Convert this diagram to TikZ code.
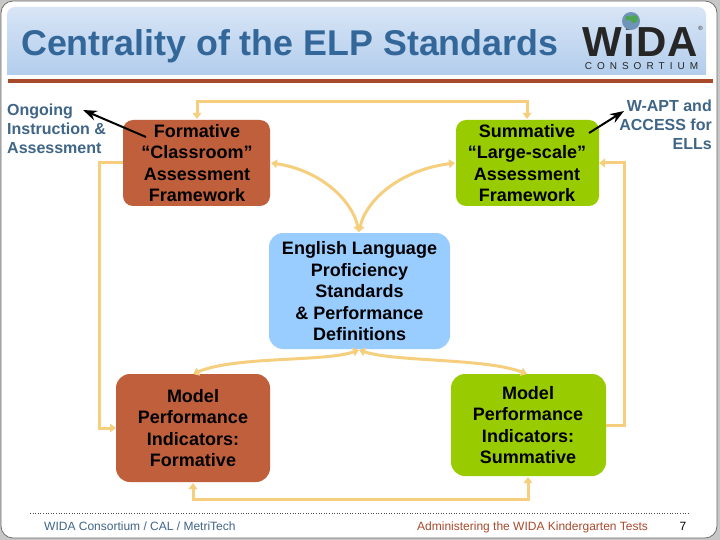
\documentclass[tikz,border=0pt]{standalone}
\usepackage{fontspec}
\setmainfont{Liberation Sans}
\usetikzlibrary{arrows.meta,calc}
\definecolor{rust}{HTML}{C05F3C}
\definecolor{lime}{HTML}{99CC00}
\definecolor{sky}{HTML}{99CCFF}
\definecolor{conn}{HTML}{F6CF7E}
\definecolor{titleblue}{HTML}{336699}
\definecolor{sidetext}{HTML}{3F6587}
\definecolor{barred}{HTML}{A94A2C}
\definecolor{headtop}{HTML}{D8E5F6}
\definecolor{headbot}{HTML}{B2CDEC}
\tikzset{
 box/.style={inner sep=0pt,align=center,font=\bfseries\fontsize{18}{21.5}\selectfont,text=black},
 side/.style={inner sep=0pt,font=\bfseries\fontsize{16}{19}\selectfont,text=sidetext},
 link/.style={conn,line width=3pt,{Triangle[width=8.5pt,length=6pt]}-{Triangle[width=8.5pt,length=6pt]}},
 linkend/.style={conn,line width=3pt,-{Triangle[width=8.5pt,length=6pt]}},
 pointer/.style={black,line width=2pt,-{Stealth[width=10pt,length=14pt]}},
 foot/.style={inner sep=0pt,font=\fontsize{12}{14}\selectfont}
}
\begin{document}
\begin{tikzpicture}[x=1pt,y=-1pt]
\useasboundingbox (0,0) rectangle (720,540);
\fill[black!22] (0,0) rectangle (720,540);
\fill[white,draw=black!60,line width=0.7pt,rounded corners=12pt] (1,1) rectangle (717,538);
% header
\shade[top color=headtop,bottom color=headbot] (7,75) -- (7,15) arc[start angle=180,end angle=90,radius=8pt] -- (698,7) arc[start angle=90,end angle=0,radius=8pt] -- (706,75) -- cycle;
\fill[barred] (8,79) rectangle (713,83);
\node[inner sep=0pt,anchor=base west,text=titleblue,font=\bfseries\fontsize{35.8}{40}\selectfont] (title) at (21,56) {Centrality of the ELP Standards};
% logo
\node[inner sep=0pt,text depth=0pt,anchor=base,font=\bfseries\fontsize{42}{42}\selectfont,text=black!85] (logo) at (640.5,57) {\addfontfeature{LetterSpace=3}WiDA};
\fill[titleblue!70!white] (631,21) circle (9pt);
\fill[black!50!green!70] (634,19) circle (4pt);
\fill[black!50!green!70] (628,18) circle (2.5pt);
\node[inner sep=0pt,anchor=base,font=\fontsize{6}{6}\selectfont,text=black!85] (reg) at (700.5,31) {®};
\node[inner sep=0pt,anchor=base,font=\fontsize{10}{10}\selectfont,text=black!85] (cons) at (641.5,70) {C\hskip5ptO\hskip5ptN\hskip5ptS\hskip5ptO\hskip5ptR\hskip5ptT\hskip5ptI\hskip5ptU\hskip5ptM};
% boxes
\fill[rust,rounded corners=10pt] (123,120) rectangle (270,206);
\node[box] (fa) at (197,163) {Formative\\“Classroom”\\Assessment\\Framework};
\fill[lime,rounded corners=10pt] (456,120) rectangle (599,206);
\node[box] (sa) at (527,163) {Summative\\“Large-scale”\\Assessment\\Framework};
\fill[sky,rounded corners=14pt] (269,233) rectangle (450,349);
\node[box] (elp) at (359.5,291.5) {English Language\\Proficiency\\Standards\\\&\ Performance\\Definitions};
\fill[rust,rounded corners=14pt] (116,374) rectangle (270,482);
\node[box] (mf) at (193,428) {Model\\Performance\\Indicators:\\Formative};
\fill[lime,rounded corners=14pt] (451,374) rectangle (606,476);
\node[box] (ms) at (528,425) {Model\\Performance\\Indicators:\\Summative};
% side text
\node[side,anchor=north west,align=left] (ongoing) at (7,104) {Ongoing\\Instruction \&\\Assessment};
\node[side,anchor=north east,align=right] (wapt) at (712,99.5) {W-APT and\\ACCESS for\\ELLs};
% connectors
\coordinate (fatop) at (197,119); \coordinate (satop) at (527,119);
\coordinate (faleft) at (123,163); \coordinate (mfleft) at (116,428);
\coordinate (msright) at (606,425); \coordinate (saright) at (599,163);
\coordinate (mfbot) at (193,483); \coordinate (msbot) at (528,477);
\coordinate (faright) at (271,163); \coordinate (saleft) at (455,163);
\coordinate (elptop) at (359,232); \coordinate (elpbot) at (359,350);
\coordinate (mftop) at (193,374); \coordinate (mstop) at (527,374);
\draw[linkend] (197,102) -- (fatop);
\draw[linkend] (527,102) -- (satop);
\draw[conn,line width=3pt,line cap=rect] (197,102) -- (527,102);
\draw[linkend] (faleft) -- (99,163) -- (99,428) -- (mfleft);
\draw[linkend] (msright) -- (624,425) -- (624,163) -- (saright);
\draw[link] (mfbot) -- (193,499) -- (528,499) -- (msbot);
\draw[link] (faright) .. controls (320,170) and (352,200) .. (elptop);
\draw[link] (saleft) .. controls (400,170) and (366,200) .. (elptop);
\draw[link] (elpbot) .. controls (325,362) and (235,356) .. (mftop);
\draw[link] (elpbot) .. controls (395,362) and (485,358) .. (mstop);
% pointers
\coordinate (pa1) at (146,137); \coordinate (pa2) at (83,110);
\coordinate (pb1) at (589,133); \coordinate (pb2) at (624,111);
\draw[pointer] (pa1) -- (pa2);
\draw[pointer] (pb1) -- (pb2);
% footer
\draw[black!70,line width=0.6pt,dotted] (30,513) -- (689,513);
\node[foot,anchor=base west,text=sidetext] (f1) at (44,530) {WIDA Consortium / CAL / MetriTech};
\node[foot,anchor=base west,text=barred] (f2) at (417,530) {Administering the WIDA Kindergarten Tests};
\node[foot,anchor=base,text=black] (f3) at (683,530) {7};
\end{tikzpicture}
\end{document}
